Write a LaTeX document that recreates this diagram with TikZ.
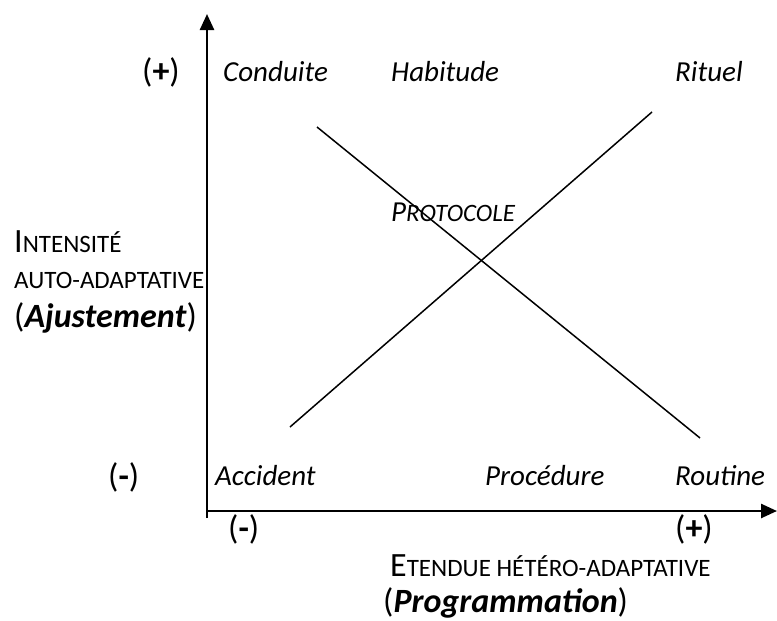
\documentclass[tikz,border=0pt]{standalone}
\usepackage{fontspec}
\setmainfont{Carlito}
\usetikzlibrary{arrows.meta}
\newcommand{\petitecap}[1]{{\fontsize{25}{30}\selectfont #1}}

\begin{document}
\begin{tikzpicture}[x=1pt, y=-1pt,
label_style/.style={font=\fontsize{29}{35}\selectfont\itshape, inner sep=0pt, anchor=west},
mark_style/.style={font=\fontsize{34}{40}\selectfont, inner sep=0pt, anchor=west},
axis_style/.style={draw=black, line width=2.5pt, -{Triangle[length=16pt,width=14pt]}},
line_style/.style={draw=black, line width=1.5pt}]
\useasboundingbox (0,0) rectangle (777,621);

% axes
\coordinate (y_foot) at (207,518);
\coordinate (ytop) at (207,14);
\coordinate (x_foot) at (206,511);
\coordinate (xend) at (777,511);
\draw[axis_style] (y_foot) -- (ytop);
\draw[axis_style] (x_foot) -- (xend);

% diagonals
\coordinate (d_start) at (317,127);
\coordinate (d_end) at (700,438);
\coordinate (a_start) at (290,427);
\coordinate (a_end) at (652,112);
\draw[line_style] (d_start) -- (d_end);
\draw[line_style] (a_start) -- (a_end);

% top row
\node[mark_style] (plus_y) at (142,72) {(\textbf{+})};
\node[label_style] (conduite) at (223,72) {Conduite};
\node[label_style] (habitude) at (391,72) {Habitude};
\node[label_style] (rituel) at (675,72) {Rituel};

\node[label_style] (protocole) at (391,212) {P\petitecap{ROTOCOLE}};

% bottom row
\node[mark_style] (minus_y) at (108,477) {(\textbf{-})};
\node[label_style] (accident) at (215,476) {Accident};
\node[label_style] (procedure) at (485,476) {Procédure};
\node[label_style] (routine) at (675,476) {Routine};

% x axis marks
\node[mark_style] (minus_x) at (228,529) {(\textbf{-})};
\node[mark_style] (plus_x) at (675,529) {(\textbf{+})};

% axis titles
\node[mark_style] (y_title1) at (14,242) {I\petitecap{NTENSITÉ}};
\node[mark_style] (y_title2) at (14,280) {\petitecap{AUTO-ADAPTATIVE}};
\node[mark_style] (y_title3) at (14,318) {(\textbf{\textit{Ajustement}})};
\node[mark_style] (x_title1) at (390,566) {E\petitecap{TENDUE HÉTÉRO-ADAPTATIVE}};
\node[mark_style] (x_title2) at (383,603) {(\textbf{\textit{Programmation}})};
\end{tikzpicture}
\end{document}
